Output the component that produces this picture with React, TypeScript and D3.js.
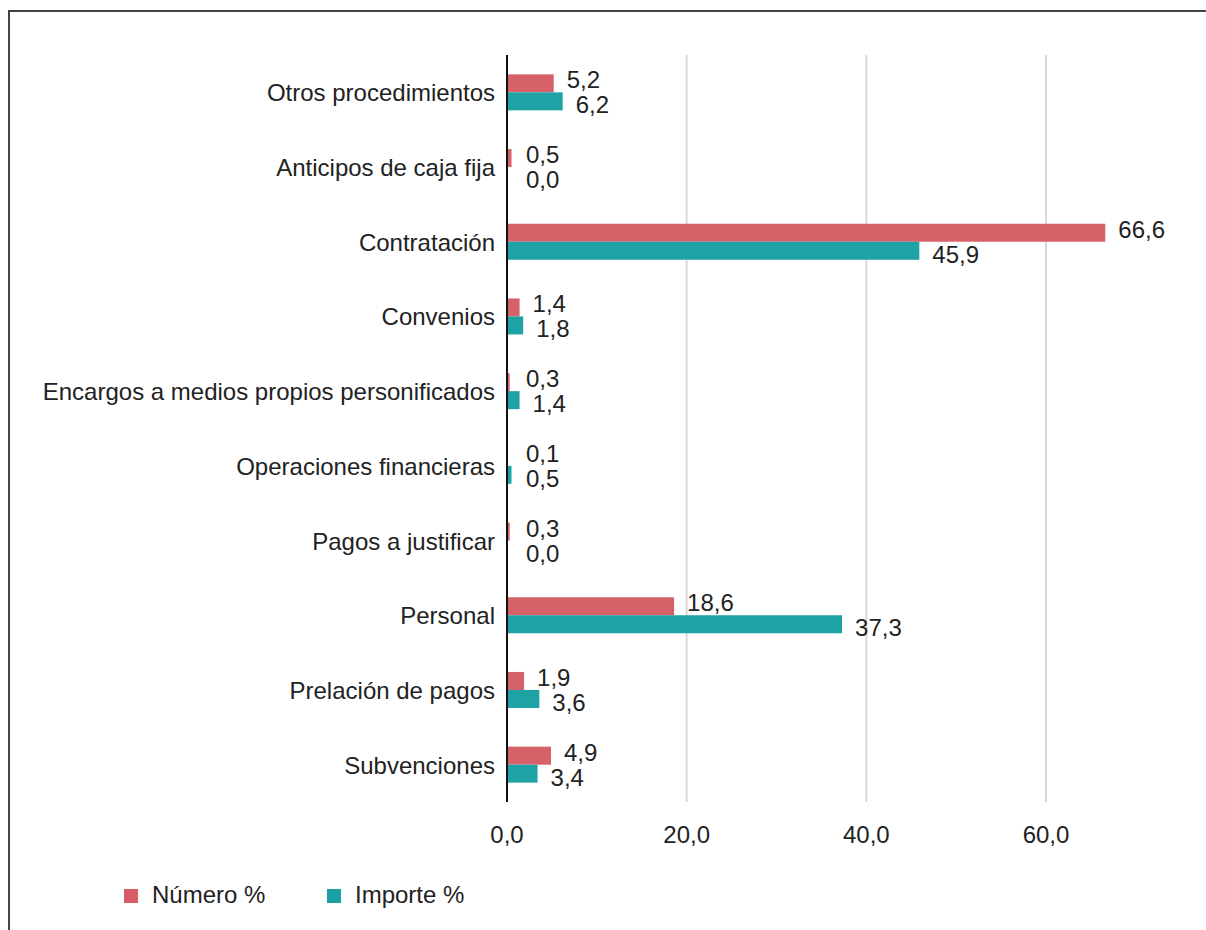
import React from "react";
import * as d3 from "d3";

const categories = [
  "Otros procedimientos",
  "Anticipos de caja fija",
  "Contratación",
  "Convenios",
  "Encargos a medios propios personificados",
  "Operaciones financieras",
  "Pagos a justificar",
  "Personal",
  "Prelación de pagos",
  "Subvenciones",
];
const numero = [5.2, 0.5, 66.6, 1.4, 0.3, 0.1, 0.3, 18.6, 1.9, 4.9];
const importe = [6.2, 0.0, 45.9, 1.8, 1.4, 0.5, 0.0, 37.3, 3.6, 3.4];
const seriesNames = ["Número %", "Importe %"];
const seriesColors = ["#d65e66", "#1ba0a4"];
const xTicks = [0, 20, 40, 60];

if (typeof document !== "undefined") document.body.style.margin = "0";

const FONT = "'Liberation Sans', Arial, sans-serif";
const fmt = (v: number) => v.toFixed(1).replace(".", ",");

export default function App() {
  const W = 1206, H = 930;
  const x = d3.scaleLinear().domain([0, 60]).range([507, 1046]);
  const y = d3.scaleBand<string>().domain(categories).range([55, 802]);
  const inner = d3.scaleBand<string>().domain(seriesNames).range([0, 36]);
  const groupOffset = (y.bandwidth() - 36) / 2;
  const series = [numero, importe];
  const labelDy = [5, 12];

  return (
    <svg width={W} height={H} style={{ display: "block", background: "#fff" }} fontFamily={FONT}>
      <rect x={9} y={11} width={W + 20} height={H + 20} fill="none" stroke="#444" strokeWidth={2} />
      {xTicks.slice(1).map((t) => (
        <line key={t} x1={x(t)} x2={x(t)} y1={55} y2={802} stroke="#d9d9d9" strokeWidth={2} />
      ))}
      {categories.map((c, i) => (
        <g key={c}>
          {series.map((s, si) => {
            const by = (y(c) as number) + groupOffset + (inner(seriesNames[si]) as number);
            const bh = inner.bandwidth();
            const xe = x(s[i]);
            const lx = Math.max(xe + 13, x(0) + 19);
            return (
              <g key={si}>
                <rect x={x(0)} y={by} width={xe - x(0)} height={bh} fill={seriesColors[si]} opacity={0.98} />
                <text x={lx} y={by + bh / 2 + labelDy[si] + (si === 0 ? 0 : 0)} fontSize={24} fill="#222">
                  {fmt(s[i])}
                </text>
              </g>
            );
          })}
          <text
            x={495}
            y={(y(c) as number) + y.bandwidth() / 2 + 9}
            fontSize={24}
            textAnchor="end"
            fill="#222"
          >
            {c}
          </text>
        </g>
      ))}
      <line x1={x(0)} x2={x(0)} y1={55} y2={802} stroke="#111" strokeWidth={2} />
      {xTicks.map((t) => (
        <text key={t} x={x(t)} y={843} fontSize={24} textAnchor="middle" fill="#222">
          {fmt(t)}
        </text>
      ))}
      {seriesNames.map((n, i) => (
        <g key={n} transform={`translate(${[124, 327][i]},889)`}>
          <rect width={14} height={14} fill={seriesColors[i]} />
          <text x={28} y={14} fontSize={24} fill="#222">
            {n}
          </text>
        </g>
      ))}
    </svg>
  );
}
